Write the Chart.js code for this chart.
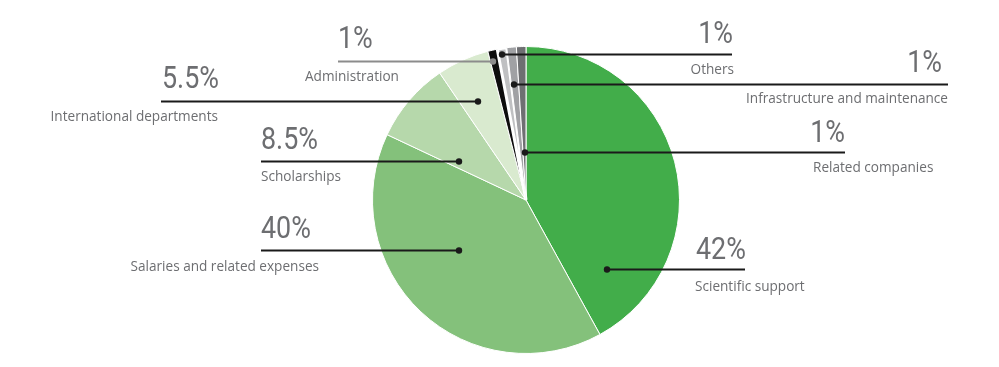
<!DOCTYPE html>
<html>
<head>
<meta charset="utf-8">
<script src="https://cdn.jsdelivr.net/npm/chart.js@4.4.1/dist/chart.umd.min.js"></script>
<style>
  html, body { margin: 0; padding: 0; background: #fff; }
  #wrap { width: 999px; height: 367px; position: relative; }
</style>
</head>
<body>
<div id="wrap"><canvas id="myChart"></canvas></div>
<script>
// data, clockwise from 12 o'clock
var categories = ['Scientific support', 'Salaries and related expenses', 'Scholarships',
                  'International departments', 'Administration', 'Others',
                  'Infrastructure and maintenance', 'Related companies'];
var shares = [42, 40, 8.5, 5.5, 1, 1, 1, 1];
var shareLabels = ['42%', '40%', '8.5%', '5.5%', '1%', '1%', '1%', '1%'];
var sliceColors = ['#42ad4a', '#84c17b', '#b6d8ab', '#d9eacf', '#0d0d0d', '#bfc0c2', '#a0a1a4', '#6e6f72'];

// callout layout (pixels): dot, line end, percent text, name text
var callouts = [
  { dot: [607, 269], lineTo: 745, pct: [696, 259, 'left'], name: [695, 287, 'left'] },
  { dot: [459, 250], lineTo: 261, pct: [261, 238, 'left'], name: [319, 267, 'right'] },
  { dot: [459, 161], lineTo: 261, pct: [261, 149, 'left'], name: [261, 177, 'left'] },
  { dot: [478, 101], lineTo: 161, pct: [162, 88, 'left'], name: [218, 117, 'right'] },
  { dot: [493, 61], lineTo: 338, pct: [338, 48, 'left'], name: [305, 77, 'left'], gray: true },
  { dot: [502, 54], lineTo: 732, pct: [733, 43, 'right'], name: [734, 70, 'right'] },
  { dot: [514, 84], lineTo: 948, pct: [942, 72, 'right'], name: [948, 99, 'right'] },
  { dot: [525, 152], lineTo: 845, pct: [845, 142, 'right'], name: [813, 168, 'left'] }
];

var calloutPlugin = {
  id: 'callouts',
  afterDatasetsDraw: function (chart) {
    var ctx = chart.ctx;
    ctx.save();
    callouts.forEach(function (c, i) {
      var col = c.gray ? '#8c8c8c' : '#1a1a1a';
      ctx.strokeStyle = col;
      ctx.fillStyle = col;
      ctx.lineWidth = 2;
      ctx.beginPath();
      ctx.moveTo(c.dot[0], c.dot[1] + 0.5);
      ctx.lineTo(c.lineTo, c.dot[1] + 0.5);
      ctx.stroke();
      ctx.beginPath();
      ctx.arc(c.dot[0], c.dot[1] + 0.5, 3.2, 0, Math.PI * 2);
      ctx.fill();

      // percent, slightly condensed
      ctx.save();
      ctx.fillStyle = '#6d6e71';
      ctx.font = '32px Roboto';
      ctx.textBaseline = 'alphabetic';
      ctx.textAlign = c.pct[2];
      ctx.translate(c.pct[0], c.pct[1]);
      ctx.scale(0.84, 1);
      ctx.fillText(shareLabels[i], 0, 0);
      ctx.restore();

      ctx.fillStyle = '#6d6e71';
      ctx.font = '13.6px "Open Sans"';
      ctx.textBaseline = 'middle';
      ctx.textAlign = c.name[2];
      ctx.fillText(categories[i], c.name[0], c.name[1]);
    });
    ctx.restore();
  }
};

new Chart(document.getElementById('myChart'), {
  type: 'pie',
  data: {
    labels: categories,
    datasets: [{
      data: shares,
      backgroundColor: sliceColors,
      borderColor: '#ffffff',
      borderWidth: [1, 1, 1, 1, 1, 3, 1, 1]
    }]
  },
  options: {
    responsive: true,
    maintainAspectRatio: false,
    animation: false,
    layout: { padding: { left: 371, right: 318, top: 45, bottom: 12 } },
    plugins: {
      legend: { display: false },
      tooltip: { enabled: false }
    }
  },
  plugins: [calloutPlugin]
});
</script>
</body>
</html>
